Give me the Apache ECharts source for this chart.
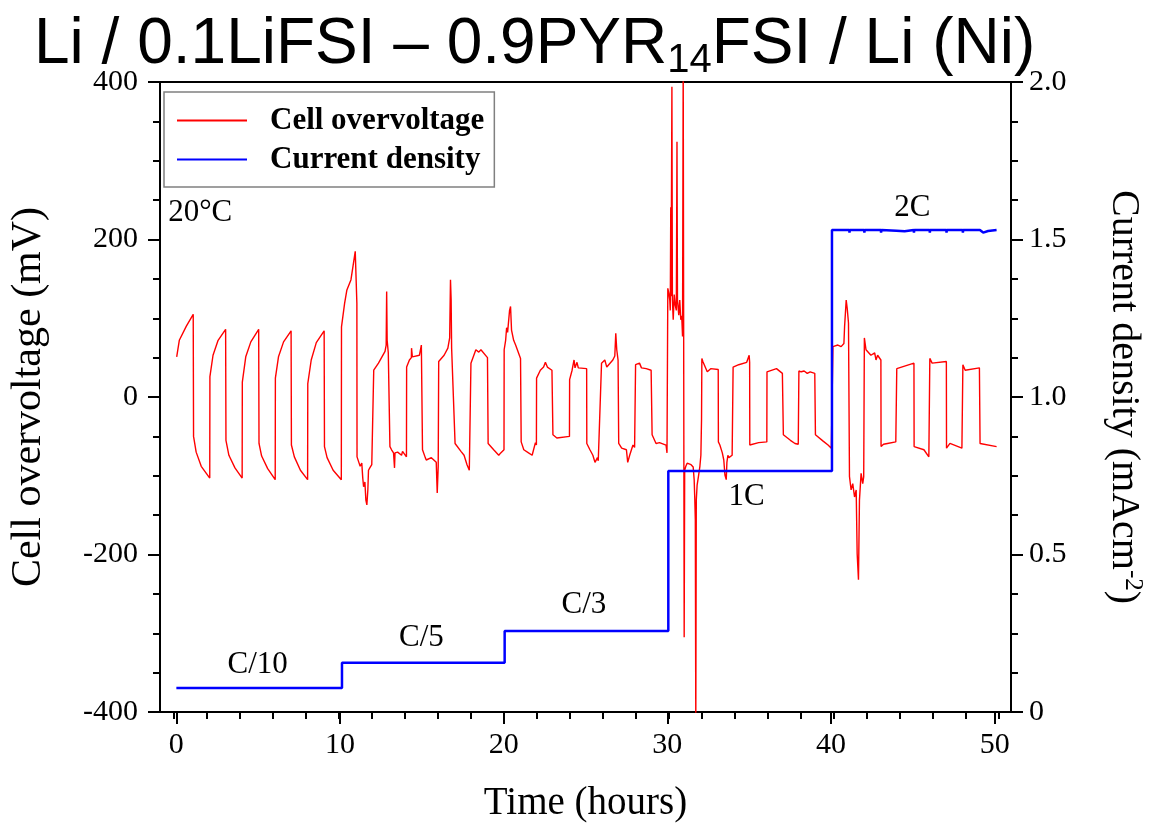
<!DOCTYPE html>
<html>
<head>
<meta charset="utf-8">
<script src="https://cdn.jsdelivr.net/npm/echarts@6/dist/echarts.min.js"></script>
<style>
  html, body { margin: 0; padding: 0; background: #fff; }
  #chart { width: 1153px; height: 828px; }
</style>
</head>
<body>
<div id="chart"></div>
<script>
// Cell overvoltage (mV) against time (h), one block per current step
const overvoltageC10 = [
  [0.02, 51], [0.18, 72], [0.61, 90], [1.03, 105],
  [1.05, -50], [1.21, -70], [1.52, -88], [2.04, -103],
  [2.05, 26], [2.24, 53], [2.55, 72], [3.01, 86],
  [3.03, -55], [3.21, -74], [3.58, -90], [4.02, -103],
  [4.03, 19], [4.24, 51], [4.55, 70], [5.03, 86],
  [5.05, -59], [5.21, -75], [5.58, -91], [6.04, -105],
  [6.05, 24], [6.24, 51], [6.55, 70], [7.01, 84],
  [7.03, -61], [7.21, -76], [7.58, -93], [8.02, -105],
  [8.03, 17], [8.24, 47], [8.55, 69], [9.03, 84],
  [9.05, -63], [9.21, -77], [9.58, -93], [10.08, -105]
];
const overvoltageC5 = [
  [10.09, 89], [10.28, 119], [10.42, 136], [10.67, 149], [10.93, 185], [10.97, 185], [11.03, 119],
  [11.04, -76], [11.15, -83], [11.23, -88], [11.33, -84], [11.39, -103], [11.44, -114], [11.52, -108],
  [11.58, -131], [11.64, -137], [11.70, -118], [11.74, -93], [11.82, -90], [11.94, -86], [12.04, -88],
  [12.06, 34], [12.35, 43], [12.75, 58], [12.82, 66], [12.85, 134], [12.88, 72], [12.95, 56],
  [13.05, -63], [13.15, -67], [13.27, -71], [13.33, -90], [13.36, -71], [13.52, -70], [13.76, -74], [13.82, -69], [14.06, -76],
  [14.07, 38], [14.24, 47], [14.36, 50], [14.37, 62], [14.42, 51], [14.85, 53], [14.97, 66], [15.03, 65],
  [15.04, -67], [15.21, -77], [15.27, -80], [15.58, -77], [15.88, -83], [15.94, -122], [16.0, -88], [16.02, -89],
  [16.03, 45], [16.36, 53], [16.59, 62], [16.70, 75], [16.75, 149], [16.79, 123], [16.82, 62], [16.91, 62],
  [17.03, -59], [17.39, -69], [17.58, -74], [17.76, -86], [17.90, -93],
  [18.0, 43], [18.30, 60], [18.48, 57], [18.61, 60], [19.01, 50],
  [19.05, -59], [19.39, -67], [19.70, -74], [19.82, -71], [20.02, -67]
];
const overvoltageC3 = [
  [20.03, 60], [20.12, 72], [20.18, 88], [20.24, 82], [20.36, 110], [20.42, 115], [20.48, 85], [20.61, 72], [20.73, 66], [21.03, 49],
  [21.07, -57], [21.23, -67], [21.52, -71], [21.74, -74], [21.94, -58], [22.0, -61],
  [22.01, 24], [22.24, 34], [22.44, 38], [22.55, 44], [22.67, 38], [22.95, 34],
  [23.01, -48], [23.25, -52], [24.02, -50],
  [24.03, 22], [24.18, 34], [24.30, 47], [24.36, 37], [24.48, 44], [24.56, 37], [25.07, 36],
  [25.08, -59], [25.27, -67], [25.45, -74], [25.58, -83], [25.68, -82], [25.73, -77], [25.78, -81], [25.88, -80],
  [25.98, 43], [26.18, 47], [26.30, 38], [26.67, 47], [26.79, 52], [26.85, 81], [26.91, 60], [26.99, 47],
  [27.03, -59], [27.21, -65], [27.5, -67], [27.58, -83], [27.70, -74], [27.90, -61], [28.0, -64],
  [28.06, 41], [28.30, 43], [28.42, 37], [28.71, 36], [29.01, 34],
  [29.07, -48], [29.31, -59], [29.52, -58], [29.92, -61], [29.98, -71], [30.02, -71]
];
const overvoltageSwitch = [
  [30.03, 138], [30.09, 132], [30.15, 123], [30.18, 110], [30.21, 241], [30.23, 128], [30.26, 130],
  [30.28, 394], [30.31, 123], [30.36, 98], [30.42, 130], [30.48, 117], [30.55, 110], [30.59, 324],
  [30.62, 123], [30.70, 104], [30.76, 123], [30.82, 98], [30.88, 103], [30.93, 77], [30.97, 430],
  [31.03, -305], [31.06, -93], [31.13, -88], [31.21, -84], [31.33, -83], [31.45, -86], [31.58, -89],
  [31.64, -105], [31.68, -131], [31.71, -156], [31.74, -420], [31.77, -131], [31.82, -112], [31.90, -101],
  [31.99, -88], [32.05, -74], [32.09, -29], [32.11, 49]
];
const overvoltage1C = [
  [32.17, 45], [32.44, 32], [32.65, 36], [33.11, 35],
  [33.12, -57], [33.21, -61], [33.36, -71], [33.45, -80], [33.52, -99], [33.6, -105], [33.64, -83], [33.70, -74], [33.76, -77], [33.96, -74],
  [34.02, 38], [34.36, 41], [34.85, 44], [35.0, 53], [35.03, 44],
  [35.04, -61], [35.58, -58], [36.08, -57],
  [36.09, 32], [36.67, 36], [37.03, 30],
  [37.09, -48], [37.52, -55], [37.8, -59], [38.0, -60],
  [38.04, 33], [38.18, 32], [38.36, 33], [38.55, 30], [38.73, 32], [39.01, 30],
  [39.05, -48], [39.52, -56], [39.82, -61], [40.02, -65]
];
const overvoltage2C = [
  [40.12, 64], [40.42, 66], [40.62, 64], [40.79, 68], [40.83, 89], [40.93, 123], [40.99, 113], [41.03, 115], [41.07, 94],
  [41.13, -101], [41.23, -118], [41.33, -110], [41.44, -127], [41.54, -118], [41.60, -199], [41.68, -232], [41.74, -131], [41.84, -97], [41.94, -110], [42.0, -101],
  [42.04, 75], [42.14, 60], [42.44, 53], [42.67, 56], [42.75, 47], [42.85, 53], [43.05, 47],
  [43.06, -63], [43.21, -60], [43.45, -59], [43.96, -57],
  [44.02, 36], [45.07, 43],
  [45.08, -63], [45.68, -67], [45.98, -76],
  [46.04, 49], [46.18, 43], [47.05, 45],
  [47.06, -65], [47.27, -59], [48.0, -65],
  [48.06, 41], [48.2, 34], [49.07, 37],
  [49.11, -59], [50.12, -63]
];

// Applied current density (mA cm-2) for each C-rate step
const densityC10 = [[0, 0.076], [10.12, 0.076]];
const densityC5 = [[10.12, 0.156], [20.06, 0.156]];
const densityC3 = [[20.06, 0.257], [30.06, 0.257]];
const density1C = [[30.06, 0.765], [35.0, 0.765], [35.01, 0.769], [35.03, 0.765], [37.0, 0.765], [37.01, 0.769], [37.03, 0.765], [39.0, 0.765], [39.01, 0.769], [39.03, 0.765], [40.06, 0.765]];
const density2C = [
  [40.06, 1.530], [41.12, 1.530], [41.13, 1.522], [41.15, 1.530], [42.03, 1.530], [42.04, 1.522], [42.06, 1.530],
  [43.05, 1.530], [43.06, 1.522], [43.08, 1.530], [44.0, 1.528], [44.5, 1.526], [45.06, 1.530], [45.07, 1.522], [45.09, 1.530],
  [46.03, 1.530], [46.04, 1.522], [46.06, 1.530], [47.05, 1.530], [47.06, 1.522], [47.08, 1.530],
  [48.05, 1.530], [48.06, 1.522], [48.08, 1.530], [49.1, 1.530], [49.3, 1.522], [49.6, 1.527], [50.12, 1.530]
];

// Time axis: visible range, labelled ticks, and the 2-hour minor tick span
const timeRange = [-1, 51];
const xMajorTicks = [0, 10, 20, 30, 40, 50];
const xMinorRange = [0, 50];
const xMinorStep = 2;

// Step annotations placed on the current-density scale
const rateLabels = ['C/10', 'C/5', 'C/3', '1C', '2C'];
const rateLabelTimes = [4.97, 14.97, 24.9, 34.85, 44.97];
const rateLabelDensity = [0.149, 0.235, 0.340, 0.683, 1.60];
const tempLabel = '20°C';

const serif = "'Liberation Serif', 'Times New Roman', serif";
const sans = "'Liberation Sans', Arial, sans-serif";

const overvoltage = [].concat(overvoltageC10, overvoltageC5, overvoltageC3, overvoltageSwitch, overvoltage1C, overvoltage2C);
const density = [].concat(densityC10, densityC5, densityC3, density1C, density2C);

// Plot box in pixels; the minor-tick grid is the same box trimmed to the 0..50 h span
const plotBox = { left: 157, right: 138, top: 82, bottom: 116 };
const plotWidth = 1153 - plotBox.left - plotBox.right;
const pxPerHour = plotWidth / (timeRange[1] - timeRange[0]);
const minorBox = {
  left: plotBox.left + (xMinorRange[0] - timeRange[0]) * pxPerHour,
  right: plotBox.right + (timeRange[1] - xMinorRange[1]) * pxPerHour,
  top: plotBox.top,
  bottom: plotBox.bottom
};

const chart = echarts.init(document.getElementById('chart'), null, { renderer: 'canvas' });

const annotationLabel = {
  show: true,
  fontFamily: serif,
  fontSize: 31,
  color: '#000',
  opacity: 1,
  formatter: p => p.name
};

chart.setOption({
  animation: false,
  backgroundColor: '#fff',
  title: {
    text: '{a|Li / 0.1LiFSI – 0.9PYR}{b|14}{a|FSI / Li (Ni)}',
    left: 29,
    top: 4,
    textStyle: {
      fontWeight: 'normal',
      rich: {
        a: { fontFamily: sans, fontSize: 64, fontWeight: 'normal', color: '#000', lineHeight: 72 },
        b: { fontFamily: sans, fontSize: 40, fontWeight: 'normal', color: '#000', verticalAlign: 'bottom', lineHeight: 72 }
      }
    }
  },
  legend: {
    data: ['Cell overvoltage', 'Current density'],
    orient: 'vertical',
    left: 164,
    top: 92,
    icon: 'rect',
    itemWidth: 70,
    itemHeight: 2,
    itemGap: 8,
    padding: [13, 10, 12, 13],
    borderColor: '#808080',
    borderWidth: 1.5,
    backgroundColor: '#fff',
    textStyle: {
      fontFamily: serif,
      fontSize: 31,
      fontWeight: 'bold',
      color: '#000',
      lineHeight: 30,
      padding: [0, 0, 0, 18]
    }
  },
  grid: [
    Object.assign({ show: true, borderColor: '#000', borderWidth: 2, backgroundColor: 'transparent' }, plotBox),
    Object.assign({ show: false }, minorBox)
  ],
  xAxis: [
    {
      type: 'value',
      gridIndex: 0,
      min: timeRange[0],
      max: timeRange[1],
      position: 'bottom',
      name: 'Time (hours)',
      nameLocation: 'middle',
      nameGap: 72,
      nameTextStyle: { fontFamily: serif, fontSize: 39, color: '#000' },
      axisLine: { show: true, onZero: false, lineStyle: { color: '#000', width: 2 } },
      axisTick: { show: true, customValues: xMajorTicks, length: 12, lineStyle: { color: '#000', width: 2 } },
      axisLabel: { customValues: xMajorTicks, margin: 18, fontFamily: serif, fontSize: 30, color: '#000' },
      splitLine: { show: false }
    },
    {
      type: 'value',
      gridIndex: 1,
      min: xMinorRange[0],
      max: xMinorRange[1],
      interval: xMinorStep,
      position: 'bottom',
      axisLine: { show: false, onZero: false },
      axisTick: { show: true, length: 7, lineStyle: { color: '#000', width: 2 } },
      axisLabel: { show: false },
      splitLine: { show: false }
    }
  ],
  yAxis: [
    {
      type: 'value',
      gridIndex: 0,
      min: -400,
      max: 400,
      interval: 200,
      position: 'left',
      name: 'Cell overvoltage (mV)',
      nameLocation: 'middle',
      nameRotate: 90,
      nameGap: 110,
      nameTextStyle: { fontFamily: serif, fontSize: 42, color: '#000' },
      axisLine: { show: true, onZero: false, lineStyle: { color: '#000', width: 2 } },
      axisTick: { show: true, length: 12, lineStyle: { color: '#000', width: 2 } },
      minorTick: { show: true, splitNumber: 4, length: 7, lineStyle: { color: '#000', width: 2 } },
      axisLabel: { margin: 22, fontFamily: serif, fontSize: 30, color: '#000' },
      splitLine: { show: false },
      minorSplitLine: { show: false }
    },
    {
      type: 'value',
      gridIndex: 0,
      min: 0,
      max: 2,
      interval: 0.5,
      position: 'right',
      name: '{a|Current density (mAcm}{s|-2}{a|)}',
      nameLocation: 'middle',
      nameRotate: -90,
      nameGap: 90,
      nameTextStyle: {
        rich: {
          a: { fontFamily: serif, fontSize: 40, color: '#000', lineHeight: 44 },
          s: { fontFamily: serif, fontSize: 25, color: '#000', verticalAlign: 'top', lineHeight: 44 }
        }
      },
      axisLine: { show: true, onZero: false, lineStyle: { color: '#000', width: 2 } },
      axisTick: { show: true, length: 12, lineStyle: { color: '#000', width: 2 } },
      minorTick: { show: true, splitNumber: 4, length: 7, lineStyle: { color: '#000', width: 2 } },
      axisLabel: {
        margin: 18,
        fontFamily: serif,
        fontSize: 30,
        color: '#000',
        formatter: v => (v === 0 ? '0' : v.toFixed(1))
      },
      splitLine: { show: false },
      minorSplitLine: { show: false }
    },
    {
      type: 'value',
      gridIndex: 1,
      min: 0,
      max: 1,
      show: false
    }
  ],
  series: [
    {
      name: 'Cell overvoltage',
      type: 'line',
      xAxisIndex: 0,
      yAxisIndex: 0,
      data: overvoltage,
      symbol: 'none',
      clip: true,
      z: 3,
      lineStyle: { color: '#ff0000', width: 1.4 },
      itemStyle: { color: '#ff0000' }
    },
    {
      name: 'Current density',
      type: 'line',
      xAxisIndex: 0,
      yAxisIndex: 1,
      data: density,
      symbol: 'none',
      clip: true,
      z: 4,
      lineStyle: { color: '#0000ff', width: 2.5 },
      itemStyle: { color: '#0000ff' }
    },
    {
      name: 'rate labels',
      type: 'scatter',
      xAxisIndex: 0,
      yAxisIndex: 1,
      symbolSize: 0,
      silent: true,
      z: 5,
      itemStyle: { opacity: 1, color: '#000' },
      data: rateLabels.map((t, i) => ({ value: [rateLabelTimes[i], rateLabelDensity[i]], name: t })),
      label: Object.assign({ position: 'inside' }, annotationLabel)
    },
    {
      name: 'temperature',
      type: 'scatter',
      xAxisIndex: 0,
      yAxisIndex: 0,
      symbolSize: 0,
      silent: true,
      z: 5,
      itemStyle: { opacity: 1, color: '#000' },
      data: [{ value: [-0.5, 234], name: tempLabel }],
      label: Object.assign({ position: 'right', distance: 0 }, annotationLabel)
    }
  ]
});
</script>
</body>
</html>
